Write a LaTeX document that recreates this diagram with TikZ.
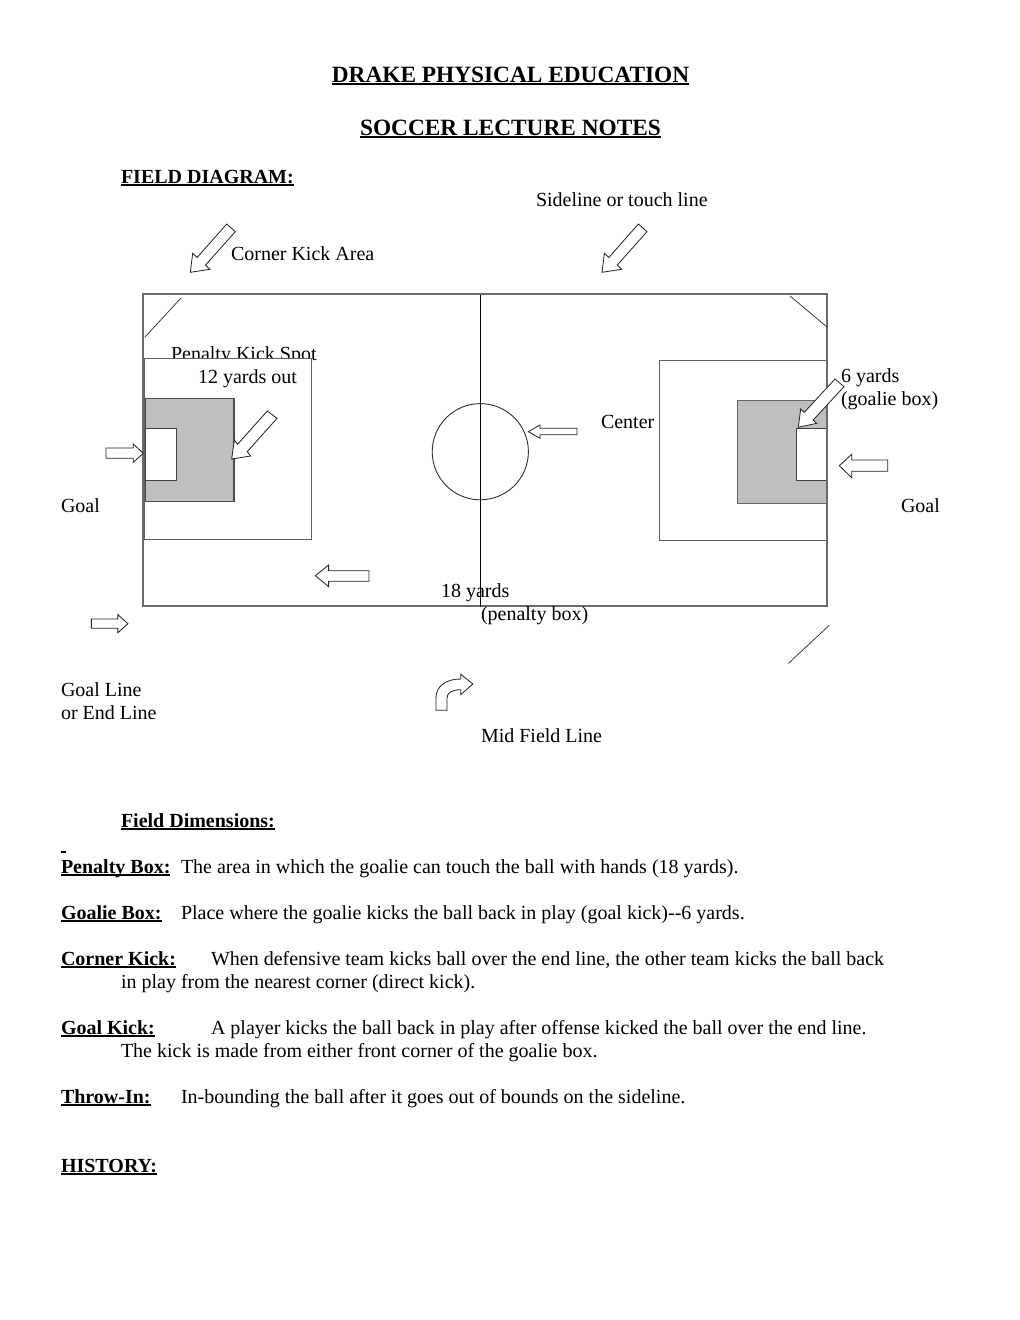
\documentclass[tikz,border=0pt]{standalone}
\usepackage{fontspec}
\setmainfont{Liberation Serif}
\newcommand{\myul}[1]{\setbox0\hbox{#1}\rlap{\rule[-1.5pt]{\wd0}{0.7pt}}\box0}
\tikzset{
  txt/.style={anchor=base west,inner sep=0pt,outer sep=0pt,font=\fontsize{12}{14}\selectfont},
  ttl/.style={anchor=base,inner sep=0pt,outer sep=0pt,font=\fontsize{14}{16}\selectfont\bfseries},
  fieldline/.style={draw=black!58,line width=0.75pt},
  thinbox/.style={draw=black!62,line width=0.6pt,fill=white},
  goalie/.style={draw=black!70,line width=0.7pt,fill=black!25},
  goalieright/.style={draw=black!60,line width=0.55pt,fill=black!25},
  goalbox/.style={draw=black!75,line width=0.6pt,fill=white},
  thinline/.style={draw=black!80,line width=0.45pt},
  blockarrow/.style={draw=black!85,line width=0.5pt,fill=white,line join=miter},
  bigdiag/.pic={\path[blockarrow] (36.4,-48.3) -- (45,-40.6) -- (15.2,-7.2) -- (19.7,-3) -- (0,0) -- (2.4,-19) -- (6.8,-14.8) -- cycle;}
}
\begin{document}
\begin{tikzpicture}[x=0.6pt,y=-0.6pt]
\useasboundingbox (0,0) rectangle (1020,1320);
\fill[white] (0,0) rectangle (1020,1320);
% titles
\node[ttl] (t1) at (510.5,82) {\myul{DRAKE PHYSICAL EDUCATION}};
\node[ttl] (t2) at (510.5,135) {\myul{SOCCER LECTURE NOTES}};
\node[txt] (fd) at (121,183) {\bfseries\myul{FIELD DIAGRAM:}};
\node[txt] (sl) at (536,206) {Sideline or touch line};
\node[txt] (ck) at (231,260) {Corner Kick Area};
% field
\node[txt] (pks) at (171,360) {Penalty Kick Spot};
\draw[fieldline] (143,294) rectangle (827,606);
\draw[thinbox] (144.5,358) rectangle (311.5,539.5);
\draw[thinbox] (659,360) rectangle (827,540);
\draw[goalie] (145.5,398.5) rectangle (234,501.5);
\draw[goalieright] (737,400) rectangle (827,503);
\draw[goalbox] (145.5,428) rectangle (176,480);
\draw[goalbox] (796,428) rectangle (826,480);
\draw[fieldline] (143,294) -- (143,606);
\draw[fieldline] (827,294) -- (827,606);
\draw[draw=black,line width=0.55pt] (480.5,295) -- (480.5,607);
\draw[draw=black!80,line width=0.55pt] (480.3,451.7) circle (48.1);
\draw[thinline] (145,337) -- (181,298);
\draw[thinline] (790,296) -- (827,327);
\draw[thinline] (788.3,663.5) -- (829,625.5);
% block arrows
\pic at (190.3,272.3) {bigdiag};
\pic at (602,272.3) {bigdiag};
\path[blockarrow] (267.3,411) -- (277,418.3) -- (247.3,451.6) -- (250.7,456) -- (231.7,459) -- (234.3,440) -- (237.6,444.3) -- cycle;
\path[blockarrow] (835,379) -- (844,386.7) -- (813.2,420) -- (816.7,423.3) -- (798.3,427.3) -- (800.7,409) -- (804.2,412.4) -- cycle;
\path[blockarrow] (887.7,460) -- (851.7,460) -- (851.7,454.3) -- (839.3,465.7) -- (851.7,477.7) -- (851.7,471.3) -- (887.7,471.3) -- cycle;
\path[blockarrow] (577,428.3) -- (540,428.3) -- (540,425) -- (528.3,431.7) -- (540,438.3) -- (540,434.7) -- (577,434.7) -- cycle;
\path[blockarrow] (106,448) -- (133.3,448) -- (133.3,444) -- (143.3,453.3) -- (133.3,462.3) -- (133.3,458.3) -- (106,458.3) -- cycle;
\path[blockarrow] (369,570.7) -- (328.6,570.7) -- (328.6,565) -- (315.4,575.7) -- (328.6,586.7) -- (328.6,581.3) -- (369,581.3) -- cycle;
\path[blockarrow] (91.4,619) -- (117.9,619) -- (117.9,614.7) -- (127.9,623.7) -- (117.9,632.7) -- (117.9,628.3) -- (91.4,628.3) -- cycle;
\path[blockarrow] (436,698) -- (436,710.3) -- (447,710.3) -- (447,698) .. controls (447,693) and (452,689.7) .. (460.7,689.7) -- (460.7,694.7) -- (472.9,684) -- (460.7,674.3) -- (460.7,679) .. controls (446,679) and (436,686) .. (436,698) -- cycle;
% field labels
\node[txt] (ty) at (198,383) {12 yards out};
\node[txt] (sy) at (841,382) {6 yards};
\node[txt] (gb) at (841,405) {(goalie box)};
\node[txt] (ct) at (601,428) {Center};
\node[txt] (g1) at (61,512) {Goal};
\node[txt] (g2) at (901,512) {Goal};
\node[txt] (ey) at (441,597) {18 yards};
\node[txt] (pb) at (481,620) {(penalty box)};
\node[txt] (gl) at (61,696) {Goal Line};
\node[txt] (el) at (61,719) {or End Line};
\node[txt] (mf) at (481,742) {Mid Field Line};
% notes
\node[txt] (fdm) at (121,827) {\bfseries\myul{Field Dimensions:}};
\node[txt] (dash) at (61,850) {\bfseries\myul{\hspace*{3pt}}};
\node[txt] (p1) at (61,873) {\bfseries\myul{Penalty Box:}};
\node[txt] (p1b) at (181,873) {The area in which the goalie can touch the ball with hands (18 yards).};
\node[txt] (p2) at (61,919) {\bfseries\myul{Goalie Box:}};
\node[txt] (p2b) at (181,919) {Place where the goalie kicks the ball back in play (goal kick)-{}-6 yards.};
\node[txt] (p3) at (61,965) {\bfseries\myul{Corner Kick:}};
\node[txt] (p3b) at (211,965) {When defensive team kicks ball over the end line, the other team kicks the ball back};
\node[txt] (p3c) at (121,988) {in play from the nearest corner (direct kick).};
\node[txt] (p4) at (61,1034) {\bfseries\myul{Goal Kick:}};
\node[txt] (p4b) at (211,1034) {A player kicks the ball back in play after offense kicked the ball over the end line.};
\node[txt] (p4c) at (121,1057) {The kick is made from either front corner of the goalie box.};
\node[txt] (p5) at (61,1103) {\bfseries\myul{Throw-In:}};
\node[txt] (p5b) at (181,1103) {In-bounding the ball after it goes out of bounds on the sideline.};
\node[txt] (hist) at (61,1172) {\bfseries\myul{HISTORY:}};
\end{tikzpicture}
\end{document}
